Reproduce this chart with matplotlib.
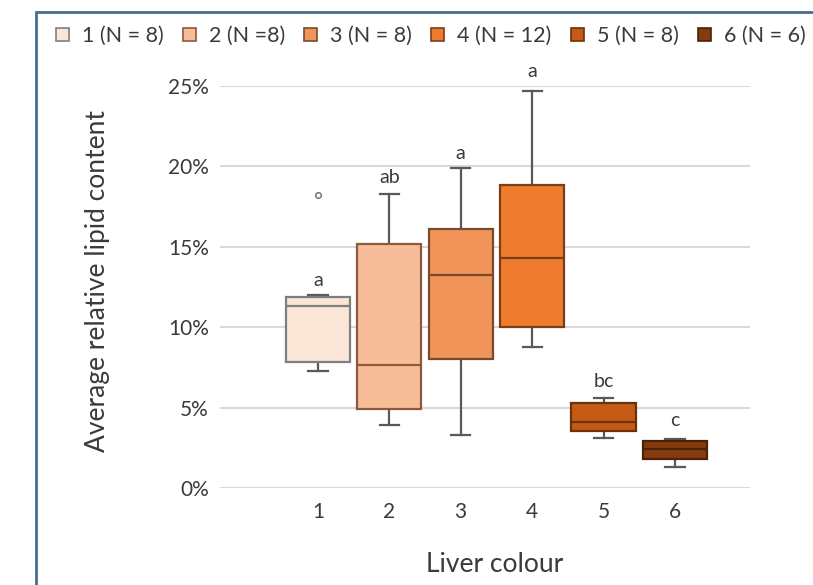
import matplotlib.pyplot as plt
from matplotlib.patches import Patch, Rectangle
from matplotlib.ticker import PercentFormatter

plt.rcParams["font.family"] = ["Lato", "DejaVu Sans"]

# Box plot summary values (fractions)
groups    = ["1", "2", "3", "4", "5", "6"]
legend_labels = ["1 (N = 8)", "2 (N =8)", "3 (N = 8)", "4 (N = 12)", "5 (N = 8)", "6 (N = 6)"]
whislo = [0.0728, 0.039, 0.033, 0.0875, 0.031, 0.013]
q1     = [0.0785, 0.049, 0.080, 0.100, 0.0355, 0.018]
med    = [0.113, 0.0765, 0.1325, 0.143, 0.041, 0.024]
q3     = [0.119, 0.152, 0.161, 0.1885, 0.053, 0.0295]
whishi = [0.120, 0.183, 0.199, 0.247, 0.056, 0.0305]
fliers = [[0.182], [], [], [], [], []]
letters   = ["a", "ab", "a", "a", "bc", "c"]
letter_y  = [0.129, 0.193, 0.208, 0.259, 0.066, 0.042]

fills = ["#FBE5D6", "#F7BD98", "#F09459", "#EE7B2E", "#C55A14", "#843C0F"]
edges = ["#7F7F7F", "#8B5A3C", "#7A4A2C", "#7A3E18", "#6B300C", "#4A2208"]
text_col = "#3A3A3A"

fig = plt.figure(figsize=(8.13, 5.85), dpi=100)
ax = fig.add_axes([220 / 813, 1 - 488 / 585, 530 / 813, 402 / 585])

stats = []
for i in range(len(groups)):
    stats.append({"whislo": whislo[i], "q1": q1[i], "med": med[i], "q3": q3[i],
                  "whishi": whishi[i], "fliers": fliers[i]})

positions = list(range(1, len(groups) + 1))
bp = ax.bxp(stats, positions=positions, widths=0.9, patch_artist=True,
            showfliers=True, capwidths=0.27,
            whiskerprops=dict(color="#595959", linewidth=1.6),
            capprops=dict(color="#595959", linewidth=1.6),
            flierprops=dict(marker="o", markersize=4, markerfacecolor="white",
                            markeredgecolor="#7F7F7F", markeredgewidth=1.2))

for i, box in enumerate(bp["boxes"]):
    box.set_facecolor(fills[i])
    box.set_edgecolor(edges[i])
    box.set_linewidth(1.6)
    bp["medians"][i].set_color(edges[i])
    bp["medians"][i].set_linewidth(1.6)
    box.set_zorder(3)
    bp["medians"][i].set_zorder(4)

for i, lab in enumerate(letters):
    ax.text(positions[i], letter_y[i], lab, ha="center", va="center",
            fontsize=14, color=text_col, clip_on=False)

ax.set_xlim(-0.37, 7.05)
ax.set_ylim(0, 0.25)
ax.set_yticks([0, 0.05, 0.10, 0.15, 0.20, 0.25])
ax.yaxis.set_major_formatter(PercentFormatter(1.0, decimals=0))
ax.set_xticks(positions)
ax.set_xticklabels(groups)
ax.tick_params(axis="both", length=0, labelsize=15, labelcolor=text_col)
ax.tick_params(axis="y", pad=8)
ax.tick_params(axis="x", pad=10)
ax.grid(axis="y", color="#D9D9D9", linewidth=1.5)
ax.set_axisbelow(True)
for s in ax.spines.values():
    s.set_visible(False)

ax.set_ylabel("Average relative lipid content", fontsize=19, color=text_col)
ax.yaxis.set_label_coords((98 - 220) / 530, (488 - 281.5) / 402)
ax.yaxis.label.set_va("center")
ax.set_xlabel("Liver colour", fontsize=19, color=text_col)
ax.xaxis.set_label_coords((495 - 220) / 530, (488 - 565) / 402)
ax.xaxis.label.set_va("center")

handles = [Patch(facecolor=fills[i], edgecolor=edges[i], linewidth=1.2) for i in range(len(groups))]
fig.legend(handles, legend_labels, loc="center left", bbox_to_anchor=(56 / 813, 1 - 36 / 585),
           ncol=6, frameon=False, fontsize=15.5, handlelength=0.6, handleheight=0.6,
           handletextpad=0.6, columnspacing=0.9, borderaxespad=0, borderpad=0,
           labelcolor=text_col)

fig.patches.append(Rectangle((36 / 813, -0.1), 2, 1.1 - 12 / 585, transform=fig.transFigure,
                             fill=False, edgecolor="#4A6C91", linewidth=2))

fig.savefig("out.png", dpi=100, facecolor="white")
